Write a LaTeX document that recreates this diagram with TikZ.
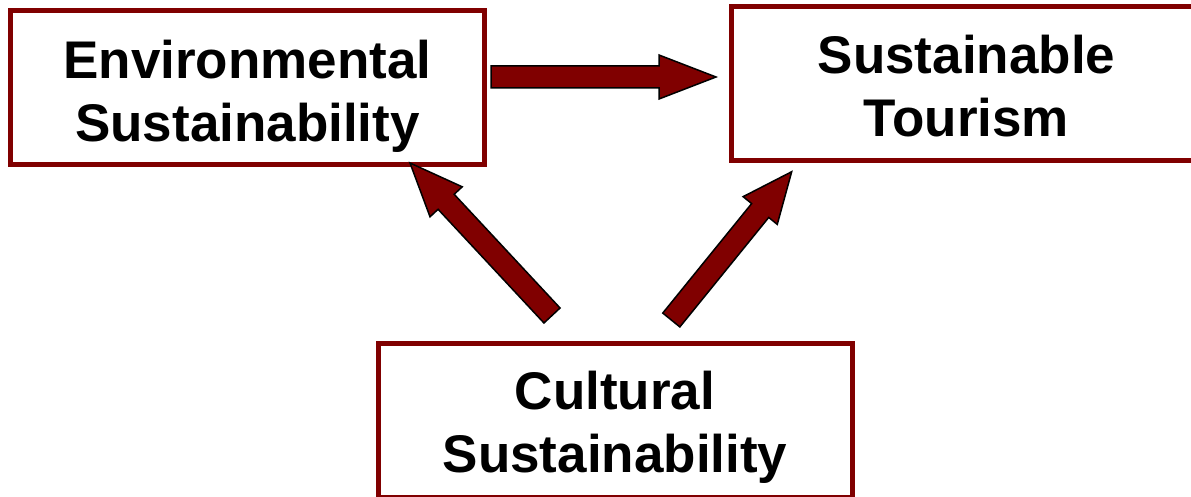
\documentclass[tikz,border=0pt]{standalone}
\usepackage{fontspec}
\setmainfont{Liberation Sans}
\usetikzlibrary{calc}
\definecolor{boxred}{HTML}{800000}
\tikzset{
  box/.style={draw=boxred, line width=5pt, fill=white, rectangle, inner sep=0pt, minimum width=474pt, minimum height=154pt},
  lbl/.style={font=\fontsize{53}{63}\selectfont\bfseries, align=center, inner sep=0pt, text=black},
  arrowbody/.style={draw=black, line width=1.5pt, fill=boxred, line join=miter}
}
\newcommand{\blockarrow}[3][54]{%
  \pgfpointdiff{\pgfpointanchor{#2}{center}}{\pgfpointanchor{#3}{center}}%
  \pgfgetlastxy{\bax}{\bay}%
  \pgfmathsetmacro{\barlen}{veclen(\bax,\bay)}%
  \pgfmathsetmacro{\barang}{atan2(\bay,\bax)}%
  \pgfmathsetmacro{\barneck}{\barlen-#1}%
  \begin{scope}[shift={(#2)}, rotate=\barang, x=1pt, y=1pt]
    \draw[arrowbody] (0,-11) -- (\barneck,-11) -- (\barneck,-22) -- (\barlen,0)
      -- (\barneck,22) -- (\barneck,11) -- (0,11) -- cycle;
  \end{scope}}
\begin{document}
\begin{tikzpicture}[x=1pt, y=-1pt]
  \useasboundingbox (0,0) rectangle (1191,497);
  \clip (0,0) rectangle (1191,497);
  % boxes
  \node[box] (env) at (247.5,87.5) {};
  \node[box] (tour) at (968.5,84) {};
  \node[box] (cult) at (615,420) {};
  % labels
  \node[lbl] (envt) at (247.5,96) {Environmental\\Sustainability};
  \node[lbl] (tourt) at (966.5,86) {Sustainable\\Tourism};
  \node[lbl] (cultt) at (615,427.5) {Cultural\\Sustainability};
  % arrow end points
  \coordinate (a1s) at (491,77);
  \coordinate (a1e) at (716,77);
  \coordinate (a2s) at (552,315.5);
  \coordinate (a2e) at (410,163);
  \coordinate (a3s) at (671.3,320);
  \coordinate (a3e) at (791.7,171.7);
  \blockarrow[57]{a1s}{a1e}
  \blockarrow[53]{a2s}{a2e}
  \blockarrow[50]{a3s}{a3e}
\end{tikzpicture}
\end{document}
